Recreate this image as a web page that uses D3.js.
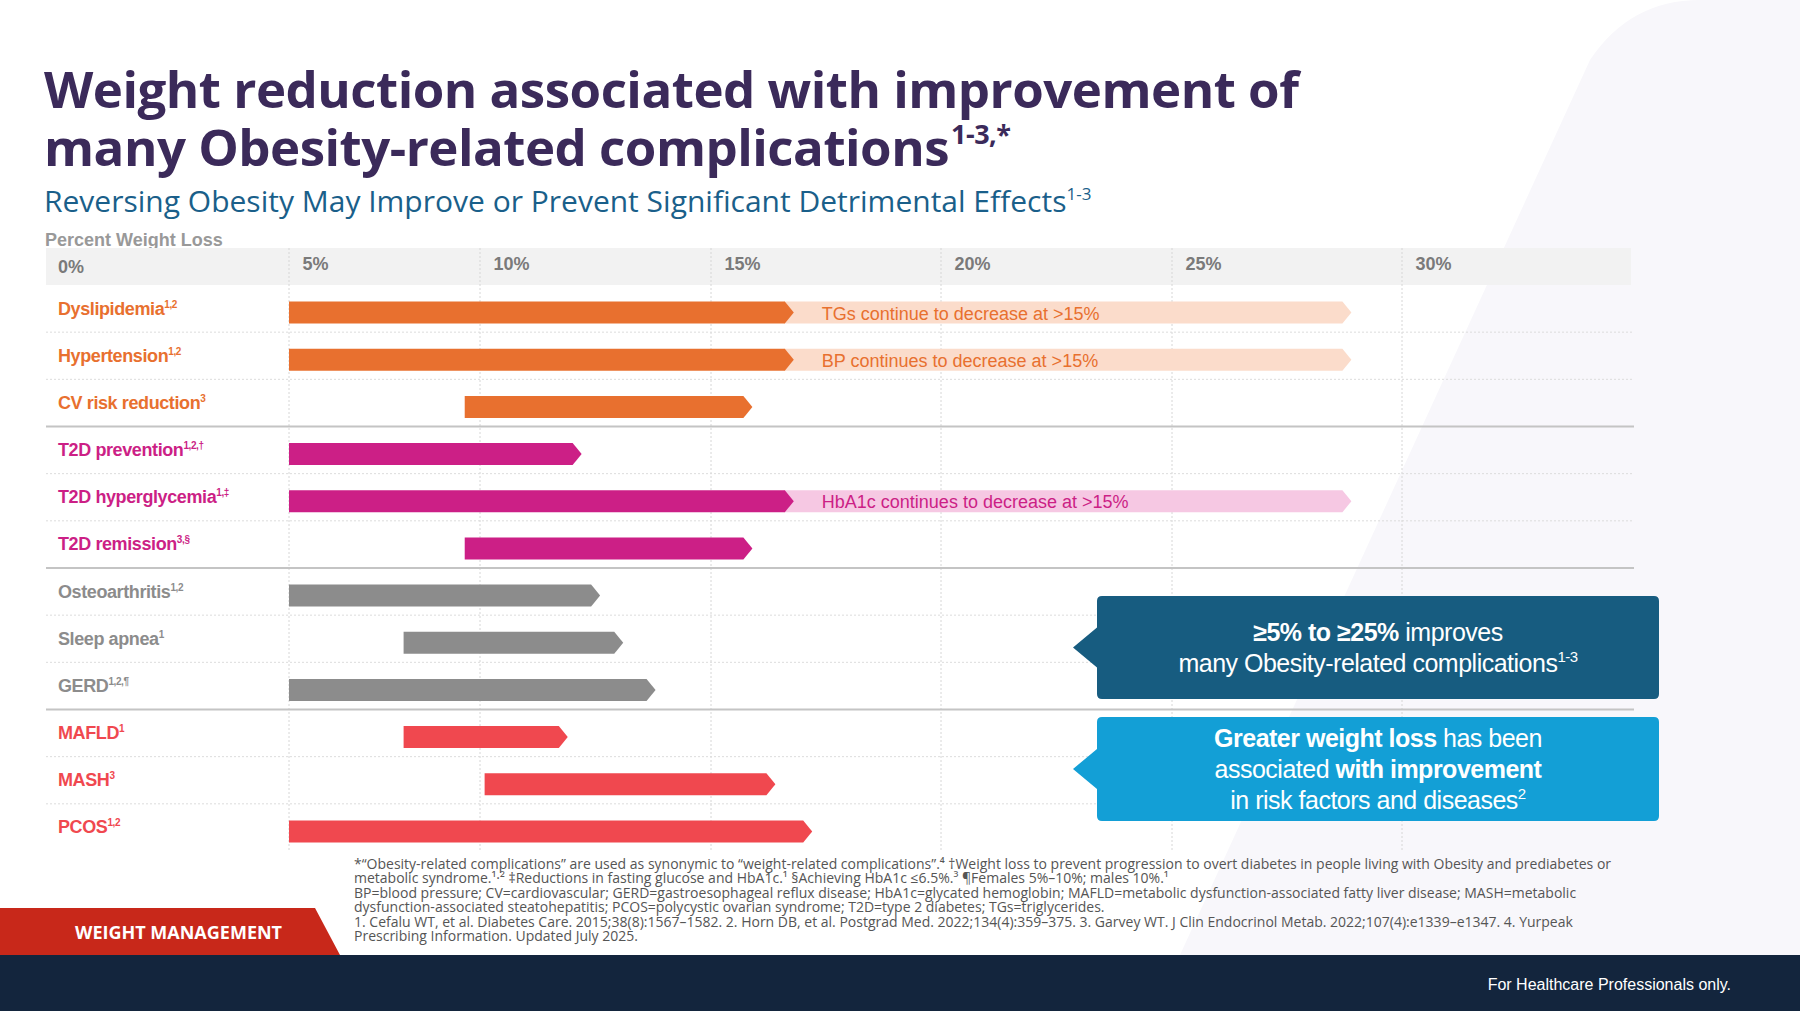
<!DOCTYPE html>
<html><head><meta charset="utf-8">
<script src="https://cdn.jsdelivr.net/npm/d3@7"></script>
<style>body{margin:0;background:#fff}svg{display:block}</style>
</head><body><div id="chart"></div>
<script>
// data
var categories = ['Dyslipidemia','Hypertension','CV risk reduction','T2D prevention','T2D hyperglycemia','T2D remission',
                  'Osteoarthritis','Sleep apnea','GERD','MAFLD','MASH','PCOS'];
var refs = ['1,2','1,2','3','1,2,†','1,‡','3,§','1,2','1','1,2,¶','1','3','1,2'];
var groups = ['lipid','lipid','lipid','t2d','t2d','t2d','other','other','other','liver','liver','liver'];
var barStart = [5,5,9.6,5,5,9.6,5,8,5,8,10.1,5];
var barEnd = [16.8,16.8,15.9,12.2,16.8,15.9,12.6,13.1,13.8,11.9,16.4,17.2];
var extEnd = [28.9,28.9,null,null,28.9,null,null,null,null,null,null,null];
var extText = ['TGs continue to decrease at >15%','BP continues to decrease at >15%',null,null,'HbA1c continues to decrease at >15%',null,null,null,null,null,null,null];
var ticks = [5,10,15,20,25,30];
var tickLabels = ['5%','10%','15%','20%','25%','30%'];

var colors = { lipid: '#e8702f', t2d: '#cc1f86', other: '#8c8c8c', liver: '#f0484f' };
var lightColors = { lipid: '#fbdccb', t2d: '#f6c8e3' };

var W = 1800, H = 1011;
var svg = d3.select('#chart').append('svg').attr('width', W).attr('height', H)
  .style('font-family', 'Arial, "Liberation Sans", sans-serif');

// faint background shape
svg.append('path').attr('d', 'M1590,60 Q1630,0 1700,0 L1800,0 L1800,955 L1180,955 Z').attr('fill', '#f8f7fb');

// titles
var title = svg.append('text').attr('fill', '#3b2a5a').attr('font-family', '"Open Sans", sans-serif')
  .attr('font-weight', 700).attr('font-size', 51).attr('letter-spacing', -0.5);
title.append('tspan').attr('x', 44).attr('y', 108).text('Weight reduction associated with improvement of');
title.append('tspan').attr('x', 44).attr('y', 166).text('many Obesity-related complications');
title.append('tspan').attr('font-size', 27).attr('dy', -22).attr('dx', 2).text('1-3,*');

var sub = svg.append('text').attr('x', 44).attr('y', 212).attr('fill', '#1a5f8a')
  .attr('font-family', '"Open Sans", sans-serif').attr('font-size', 30);
sub.append('tspan').text('Reversing Obesity May Improve or Prevent Significant Detrimental Effects');
sub.append('tspan').attr('font-size', 17).attr('dy', -12).text('1-3');

svg.append('text').attr('x', 45).attr('y', 246).attr('fill', '#999').attr('font-size', 18)
  .attr('font-weight', 700).text('Percent Weight Loss');

// scales
var x = d3.scaleLinear().domain([5,10,15,20,25,30,33]).range([289,480,711,941,1172,1402,1631]);
var y = d3.scaleBand().domain(categories).range([285, 851]).padding(0);

// header band
svg.append('rect').attr('x', 46).attr('y', 248).attr('width', 1631 - 46).attr('height', 37).attr('fill', '#f2f2f2');
svg.append('text').attr('x', 58).attr('y', 273).attr('fill', '#7a7a7a').attr('font-size', 18).attr('font-weight', 700).text('0%');

var axis = d3.axisTop(x).tickValues(ticks).tickFormat(function(d, i) { return tickLabels[i]; }).tickSize(0);
var ax = svg.append('g').attr('transform', 'translate(0,266)').call(axis);
ax.select('.domain').remove();
ax.selectAll('text').attr('text-anchor', 'start').attr('dx', 13).attr('dy', 7)
  .attr('fill', '#7a7a7a').attr('font-size', 18).attr('font-weight', 700).attr('font-family', 'Arial, sans-serif');

// vertical gridlines
svg.append('g').selectAll('line').data(ticks).join('line')
  .attr('x1', function(d) { return x(d); }).attr('x2', function(d) { return x(d); })
  .attr('y1', 248).attr('y2', 851)
  .attr('stroke', '#d6d6d6').attr('stroke-dasharray', '2,2');

// row separators
svg.append('g').selectAll('line').data(categories.slice(1)).join('line')
  .attr('x1', 46).attr('x2', 1634)
  .attr('y1', function(d) { return y(d); }).attr('y2', function(d) { return y(d); })
  .attr('stroke', function(d, i) { return groups[i] !== groups[i + 1] ? '#c4c4c4' : '#dcdcdc'; })
  .attr('stroke-width', function(d, i) { return groups[i] !== groups[i + 1] ? 2 : 1; })
  .attr('stroke-dasharray', function(d, i) { return groups[i] !== groups[i + 1] ? null : '2,2'; });

function arrowPath(x0, x1, yc, h) {
  var t = 9;
  return 'M' + x0 + ',' + (yc - h / 2) + 'L' + (x1 - t) + ',' + (yc - h / 2) + 'L' + x1 + ',' + yc +
         'L' + (x1 - t) + ',' + (yc + h / 2) + 'L' + x0 + ',' + (yc + h / 2) + 'Z';
}

var bh = 22;
var off = 4;
var rows = svg.append('g').selectAll('g').data(categories).join('g');

// light extensions
rows.filter(function(d, i) { return extEnd[i] != null; }).append('path')
  .attr('d', function(d) { var i = categories.indexOf(d);
    return arrowPath(x(barEnd[i]) - 10, x(extEnd[i]), y(d) + y.bandwidth() / 2 + off, bh); })
  .attr('fill', function(d) { return lightColors[groups[categories.indexOf(d)]]; });
rows.filter(function(d, i) { return extText[i] != null; }).append('text')
  .attr('x', function(d) { return x(barEnd[categories.indexOf(d)]) + 28; })
  .attr('y', function(d) { return y(d) + y.bandwidth() / 2 + off + 7; })
  .attr('fill', function(d) { return colors[groups[categories.indexOf(d)]]; })
  .attr('font-size', 18).text(function(d) { return extText[categories.indexOf(d)]; });

// bars
rows.append('path')
  .attr('d', function(d, i) { return arrowPath(x(barStart[i]), x(barEnd[i]), y(d) + y.bandwidth() / 2 + off, bh); })
  .attr('fill', function(d, i) { return colors[groups[i]]; });

// labels
var lab = rows.append('text').attr('x', 58).attr('y', function(d) { return y(d) + y.bandwidth() / 2 + 6; })
  .attr('fill', function(d, i) { return colors[groups[i]]; })
  .attr('font-size', 18).attr('font-weight', 700).attr('letter-spacing', -0.4);
lab.append('tspan').text(function(d) { return d; });
lab.append('tspan').attr('font-size', 10).attr('dy', -7).text(function(d, i) { return refs[i]; });

// callouts
function callout(yTop, hgt, fill, lines) {
  var x0 = 1097, x1 = 1659, yc = yTop + hgt / 2;
  svg.append('path').attr('d', 'M' + (x0 + 5) + ',' + yTop + 'L' + (x1 - 5) + ',' + yTop + 'Q' + x1 + ',' + yTop + ' ' + x1 + ',' + (yTop + 5) +
    'L' + x1 + ',' + (yTop + hgt - 5) + 'Q' + x1 + ',' + (yTop + hgt) + ' ' + (x1 - 5) + ',' + (yTop + hgt) +
    'L' + (x0 + 5) + ',' + (yTop + hgt) + 'Q' + x0 + ',' + (yTop + hgt) + ' ' + x0 + ',' + (yTop + hgt - 5) +
    'L' + x0 + ',' + (yc + 20) + 'L' + (x0 - 24) + ',' + yc + 'L' + x0 + ',' + (yc - 20) + 'L' + x0 + ',' + (yTop + 5) +
    'Q' + x0 + ',' + yTop + ' ' + (x0 + 5) + ',' + yTop + 'Z').attr('fill', fill);
  var n = lines.length, lh = 31;
  lines.forEach(function(parts, k) {
    var t = svg.append('text').attr('x', (x0 + x1) / 2).attr('text-anchor', 'middle')
      .attr('y', yc - (n - 1) * lh / 2 + k * lh + 9).attr('fill', '#fff').attr('font-size', 25).attr('letter-spacing', -0.5);
    parts.forEach(function(p) {
      var s = t.append('tspan').text(p[0]);
      if (p[1] === 'b') s.attr('font-weight', 700);
      if (p[1] === 'sup') s.attr('font-size', 15).attr('dy', -10);
    });
  });
}
callout(596, 103, '#175c80', [[['≥5% to ≥25%', 'b'], [' improves']], [['many Obesity-related complications'], ['1-3', 'sup']]]);
callout(717, 104, '#139fd6', [[['Greater weight loss', 'b'], [' has been']], [['associated '], ['with improvement', 'b']],
  [['in risk factors and diseases'], ['2', 'sup']]]);

// footnotes
var notes = [
  '*\u201cObesity-related complications\u201d are used as synonymic to \u201cweight-related complications\u201d.\u2074 \u2020Weight loss to prevent progression to overt diabetes in people living with Obesity and prediabetes or',
  'metabolic syndrome.\u00b9\u00b7\u00b2 \u2021Reductions in fasting glucose and HbA1c.\u00b9 \u00a7Achieving HbA1c \u22646.5%.\u00b3 \u00b6Females 5%\u201310%; males 10%.\u00b9',
  'BP=blood pressure; CV=cardiovascular; GERD=gastroesophageal reflux disease; HbA1c=glycated hemoglobin; MAFLD=metabolic dysfunction-associated fatty liver disease; MASH=metabolic',
  'dysfunction-associated steatohepatitis; PCOS=polycystic ovarian syndrome; T2D=type 2 diabetes; TGs=triglycerides.',
  '1. Cefalu WT, et al. Diabetes Care. 2015;38(8):1567\u20131582. 2. Horn DB, et al. Postgrad Med. 2022;134(4):359\u2013375. 3. Garvey WT. J Clin Endocrinol Metab. 2022;107(4):e1339\u2013e1347. 4. Yurpeak',
  'Prescribing Information. Updated July 2025.'
];
svg.append('g').selectAll('text').data(notes).join('text')
  .attr('x', 354).attr('y', function(d, i) { return 869 + i * 14.4; })
  .attr('fill', '#555').attr('font-size', 14).attr('font-family', '"Liberation Sans Narrow", "Open Sans", sans-serif')
  .text(function(d) { return d; });

// bottom tab and band
svg.append('path').attr('d', 'M0,908 L315,908 L340,955 L0,955 Z').attr('fill', '#c8281a');
svg.append('text').attr('x', 75).attr('y', 939).attr('fill', '#fff').attr('font-size', 18).attr('font-weight', 700)
  .attr('font-family', '"Open Sans", sans-serif').text('WEIGHT MANAGEMENT');
svg.append('rect').attr('x', 0).attr('y', 955).attr('width', W).attr('height', 56).attr('fill', '#13253d');
svg.append('text').attr('x', 1731).attr('y', 990).attr('text-anchor', 'end').attr('fill', '#fff').attr('font-size', 16)
  .text('For Healthcare Professionals only.');
</script></body></html>
